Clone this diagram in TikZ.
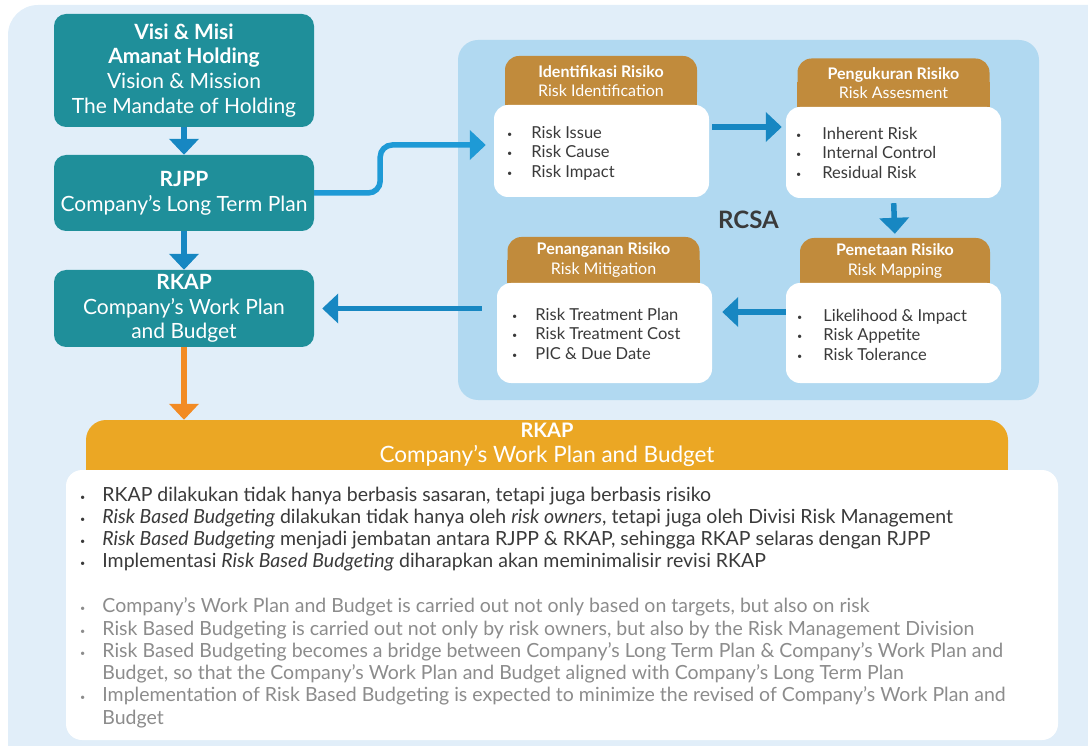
\documentclass[tikz,border=0pt]{standalone}
\usepackage{fontspec}
\setmainfont{Lato}
\usetikzlibrary{arrows.meta}

\definecolor{bgBlue}{HTML}{E1EEF9}
\definecolor{panelBlue}{HTML}{B1D9F1}
\definecolor{tealBox}{HTML}{1F8F9A}
\definecolor{arrowBlue}{HTML}{1787C2}
\definecolor{linkBlue}{HTML}{1E9AD6}
\definecolor{goldHead}{HTML}{C18B3C}
\definecolor{orangeHead}{HTML}{EBA724}
\definecolor{orangeArrow}{HTML}{F28B24}
\definecolor{darkText}{HTML}{3A3A3A}
\definecolor{greyText}{HTML}{8C8C8C}

\newcommand{\itemdot}{\raisebox{1pt}{\fontsize{9}{9}\selectfont\textbullet}}

\begin{document}
\begin{tikzpicture}[x=1pt, y=-1pt,
    tealbox/.style={fill=tealBox, rounded corners=12pt, text=white, align=center,
        minimum width=260pt, inner sep=0pt, font=\fontsize{21}{24.8}\selectfont},
    goldhead/.style={fill=goldHead, rounded corners=14pt, text=white, align=center,
        minimum width=192pt, inner sep=0pt, font=\fontsize{16}{19.5}\selectfont},
    whitebox/.style={fill=white, rounded corners=14pt, minimum width=215pt, inner sep=0pt},
    items/.style={anchor=west, inner sep=0pt, text=darkText, font=\fontsize{16.5}{19.5}\selectfont},
    notes/.style={anchor=west, inner sep=0pt, font=\fontsize{19.5}{22.3}\selectfont},
    flow/.style={line width=5.5pt, draw=arrowBlue, -{Triangle[width=29pt,length=16pt]}},
  ]
    \useasboundingbox (0,0) rectangle (1088,746);

    % Background
    \begin{scope}
        \clip (0,0) rectangle (1088,746);
        \fill[bgBlue, rounded corners=30pt] (8,5) rectangle (1130,790);
    \end{scope}

    % Planning chain
    \node[tealbox, minimum height=113pt] (vision) at (184,70.5)
        {\textbf{Visi \& Misi}\\\textbf{Amanat Holding}\\Vision \& Mission\\The Mandate of Holding};
    \node[tealbox, minimum height=76pt] (rjpp) at (184,193)
        {\textbf{RJPP}\\Company’s Long Term Plan};
    \node[tealbox, minimum height=77pt] (rkap) at (184,308.5)
        {\textbf{RKAP}\\Company’s Work Plan\\and Budget};

    % RCSA panel
    \node[fill=panelBlue, rounded corners=20pt, minimum width=581pt, minimum height=360pt,
        text=darkText, font=\fontsize{24}{28}\selectfont\bfseries] (rcsa) at (748.5,220) {RCSA};

    % Risk identification
    \fill[goldHead] (505,80) rectangle (697,105);
    \node[goldhead, minimum height=50pt] (identHead) at (601,81)
        {\textbf{Identifikasi Risiko}\\Risk Identification};
    \node[whitebox, minimum height=92pt] (identBox) at (601.5,151) {};
    \node[items] (identList) at (507,154) {\begin{tabular}{@{}l@{\hspace{19pt}}l@{}}
        \itemdot & Risk Issue\\ \itemdot & Risk Cause\\ \itemdot & Risk Impact\end{tabular}};

    % Risk assessment
    \fill[goldHead] (797,82) rectangle (990,107);
    \node[goldhead, minimum height=49pt] (assessHead) at (893.5,83)
        {\textbf{Pengukuran Risiko}\\Risk Assesment};
    \node[whitebox, minimum height=91pt] (assessBox) at (893.5,152.5) {};
    \node[items] (assessList) at (796,155) {\begin{tabular}{@{}l@{\hspace{21pt}}l@{}}
        \itemdot & Inherent Risk\\ \itemdot & Internal Control\\ \itemdot & Residual Risk\end{tabular}};

    % Risk mitigation
    \fill[goldHead] (507,260) rectangle (700,283);
    \node[goldhead, minimum height=46pt] (mitHead) at (603.5,260)
        {\textbf{Penanganan Risiko}\\Risk Mitigation};
    \node[whitebox, minimum height=100pt] (mitBox) at (604.5,333) {};
    \node[items] (mitList) at (512,336) {\begin{tabular}{@{}l@{\hspace{18pt}}l@{}}
        \itemdot & Risk Treatment Plan\\ \itemdot & Risk Treatment Cost\\ \itemdot & PIC \& Due Date\end{tabular}};

    % Risk mapping
    \fill[goldHead] (800,260) rectangle (990,283);
    \node[goldhead, minimum height=46pt, minimum width=190pt] (mapHead) at (895,261)
        {\textbf{Pemetaan Risiko}\\Risk Mapping};
    \node[whitebox, minimum height=100pt] (mapBox) at (893.5,333) {};
    \node[items] (mapList) at (797,337) {\begin{tabular}{@{}l@{\hspace{21pt}}l@{}}
        \itemdot & Likelihood \& Impact\\ \itemdot & Risk Appetite\\ \itemdot & Risk Tolerance\end{tabular}};

    % Work plan and budget
    \fill[orangeHead] (86,445) rectangle (1008,470);
    \node[fill=orangeHead, rounded corners=20pt, minimum width=922pt, minimum height=50pt,
        text=white, align=center, inner sep=0pt, font=\fontsize{22.5}{25}\selectfont] (planHead) at (547,445)
        {{\fontsize{20}{25}\selectfont\textbf{RKAP}}\\Company’s Work Plan and Budget};
    \node[fill=white, rounded corners=16pt, minimum width=992pt, minimum height=270pt,
        inner sep=0pt] (planBox) at (562,605) {};
    \node[notes, text=darkText] (notesId) at (80,530) {\begin{tabular}{@{}l@{\hspace{17pt}}l@{}}
        \itemdot & RKAP dilakukan tidak hanya berbasis sasaran, tetapi juga berbasis risiko\\
        \itemdot & \textit{Risk Based Budgeting} dilakukan tidak hanya oleh \textit{risk owners}, tetapi juga oleh Divisi Risk Management\\
        \itemdot & \textit{Risk Based Budgeting} menjadi jembatan antara RJPP \& RKAP, sehingga RKAP selaras dengan RJPP\\
        \itemdot & Implementasi \textit{Risk Based Budgeting} diharapkan akan meminimalisir revisi RKAP\end{tabular}};
    \node[notes, text=greyText] (notesEn) at (80,664) {\begin{tabular}{@{}l@{\hspace{17pt}}l@{}}
        \itemdot & Company’s Work Plan and Budget is carried out not only based on targets, but also on risk\\
        \itemdot & Risk Based Budgeting is carried out not only by risk owners, but also by the Risk Management Division\\
        \itemdot & Risk Based Budgeting becomes a bridge between Company’s Long Term Plan \& Company’s Work Plan and\\
                 & Budget, so that the Company’s Work Plan and Budget aligned with Company’s Long Term Plan\\
        \itemdot & Implementation of Risk Based Budgeting is expected to minimize the revised of Company’s Work Plan and\\
                 & Budget\end{tabular}};

    % Arrows
    \draw[flow] (vision) -- (rjpp);
    \draw[flow] (rjpp) -- (rkap);
    \draw[flow, draw=linkBlue, rounded corners=12pt, shorten >=8pt]
        (rjpp.east) -- ++(66,0) |- ([yshift=6pt]identBox.west);
    \draw[flow, shorten <=3pt, shorten >=4pt]
        ([yshift=24pt]identBox.east) -- ([yshift=24pt]identBox.east -| assessBox.west);
    \draw[flow, shorten <=5pt, shorten >=4pt] (assessBox.south) -- (mapHead.north);
    \draw[flow, shorten >=10pt]
        ([yshift=21pt]mapBox.west) -- ([yshift=21pt]mapBox.west -| mitBox.east);
    \draw[flow, shorten <=15pt, shorten >=8pt] (mitBox.west |- rkap.east) -- (rkap.east);
    \draw[flow, draw=orangeArrow] (rkap.south) -- (rkap.south |- planHead.north);

\end{tikzpicture}
\end{document}
